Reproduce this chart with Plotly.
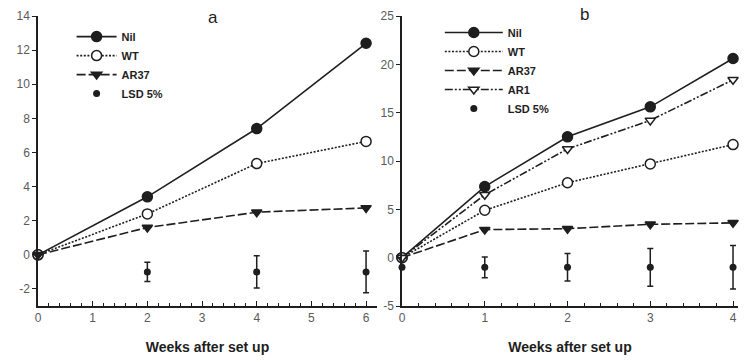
import plotly.graph_objects as go

# ---- data ----
weeks_a = [0, 2, 4, 6]
nil_a = [0, 3.4, 7.4, 12.4]
wt_a = [0, 2.4, 5.35, 6.65]
ar37_a = [0, 1.6, 2.5, 2.75]
lsd_x_a = [2, 4, 6]
lsd_y_a = [-1, -1, -1]
lsd_err_a = [0.57, 0.95, 1.22]

weeks_b = [0, 1, 2, 3, 4]
nil_b = [0, 7.35, 12.5, 15.6, 20.6]
wt_b = [0, 4.9, 7.75, 9.7, 11.7]
ar37_b = [0, 2.9, 3.0, 3.45, 3.6]
ar1_b = [0, 6.5, 11.25, 14.2, 18.4]
lsd_x_b = [0, 1, 2, 3, 4]
lsd_y_b = [-1, -1, -1, -1, -1]
lsd_err_b = [None, 1.07, 1.42, 1.95, 2.25]

x_ticks_a = [0, 1, 2, 3, 4, 5, 6]
y_ticks_a = [-2, 0, 2, 4, 6, 8, 10, 12, 14]
x_ticks_b = [0, 1, 2, 3, 4]
y_ticks_b = [-5, 0, 5, 10, 15, 20, 25]

INK = "#1e1e1e"
FONT = "Arial, Liberation Sans, sans-serif"

fig = go.Figure()


def add_series(x, y, name, dash, symbol, fill, xa, ya, legend, size=10):
    fig.add_trace(go.Scatter(
        x=x, y=y, name=name, mode="lines+markers",
        line=dict(color=INK, width=1.6, dash=dash),
        marker=dict(symbol=symbol, size=size, color=fill,
                    line=dict(color=INK, width=1.5)),
        xaxis=xa, yaxis=ya, legend=legend, cliponaxis=False,
    ))


def add_lsd(x, y, err, xa, ya, legend):
    fig.add_trace(go.Scatter(
        x=x, y=y, name="LSD 5%", mode="markers",
        marker=dict(symbol="circle", size=7, color=INK),
        error_y=dict(type="data", array=err, visible=True,
                     color=INK, thickness=1.5, width=3),
        xaxis=xa, yaxis=ya, legend=legend, cliponaxis=False,
    ))


# panel a
add_series(weeks_a, nil_a, "Nil", "solid", "circle", INK, "x", "y", "legend")
add_series(weeks_a, wt_a, "WT", "2px,1.6px", "circle", "white", "x", "y", "legend")
add_series(weeks_a, ar37_a, "AR37", "9px,3px", "triangle-down", INK, "x", "y", "legend", 9)
add_lsd(lsd_x_a, lsd_y_a, lsd_err_a, "x", "y", "legend")

# panel b
add_series(weeks_b, nil_b, "Nil", "solid", "circle", INK, "x2", "y2", "legend2")
add_series(weeks_b, wt_b, "WT", "2px,1.6px", "circle", "white", "x2", "y2", "legend2")
add_series(weeks_b, ar37_b, "AR37", "9px,3px", "triangle-down", INK, "x2", "y2", "legend2", 9)
add_series(weeks_b, ar1_b, "AR1", "8px,2px,2px,2px,2px,2px", "triangle-down", "white",
           "x2", "y2", "legend2", 9)
add_lsd(lsd_x_b, lsd_y_b, lsd_err_b, "x2", "y2", "legend2")

xcommon = dict(
    showline=True, linecolor=INK, linewidth=1.5, showgrid=False, zeroline=False,
    ticks="inside", ticklen=5, tickwidth=1.3, tickcolor=INK,
    minor=dict(ticks="inside", dtick=0.2, ticklen=3, tickwidth=1.2, tickcolor=INK),
    tickfont=dict(family=FONT, size=12, color="#5a5a5a"),
    title=dict(text="<b>Weeks after set up</b>", standoff=18,
               font=dict(family=FONT, size=14, color=INK)),
)
ycommon = dict(
    showline=True, linecolor=INK, linewidth=1.5, showgrid=False, zeroline=False,
    ticks="outside", ticklen=4, tickwidth=1.3, tickcolor=INK,
    tickfont=dict(family=FONT, size=12, color="#5a5a5a"),
)

legend_common = dict(
    bgcolor="rgba(0,0,0,0)", font=dict(family=FONT, size=11, color=INK, weight="bold"),
    xanchor="left", yanchor="top", tracegroupgap=0,
)

fig.update_layout(
    width=748, height=362,
    margin=dict(l=38, r=10, t=9, b=56),
    paper_bgcolor="white", plot_bgcolor="white",
    font=dict(family=FONT, color=INK),
    xaxis=dict(domain=[0, 0.4843], range=[0, 6.2], tickvals=x_ticks_a,
               ticktext=[str(v) for v in x_ticks_a], **xcommon),
    yaxis=dict(range=[-3, 14], tickvals=y_ticks_a, ticktext=[str(v) for v in y_ticks_a],
               anchor="x", **ycommon),
    xaxis2=dict(domain=[0.52, 1.0], range=[0, 4.06], tickvals=x_ticks_b,
                ticktext=[str(v) for v in x_ticks_b], anchor="y2", **xcommon),
    yaxis2=dict(range=[-5, 25], tickvals=y_ticks_b, ticktext=[str(v) for v in y_ticks_b],
                anchor="x2", **ycommon),
    legend=dict(x=0.048, y=0.979, itemwidth=40, **legend_common),
    legend2=dict(x=0.574, y=0.993, itemwidth=58, **legend_common),
    annotations=[
        dict(text="a", x=0.25, y=0.995, xref="paper", yref="paper", showarrow=False,
             font=dict(family=FONT, size=17, color=INK), xanchor="center", yanchor="middle"),
        dict(text="b", x=0.781, y=1.005, xref="paper", yref="paper", showarrow=False,
             font=dict(family=FONT, size=17, color=INK), xanchor="center", yanchor="middle"),
    ],
)

fig.write_html("out.html", config={"displayModeBar": False},
               post_script="document.body.style.margin='0';")
